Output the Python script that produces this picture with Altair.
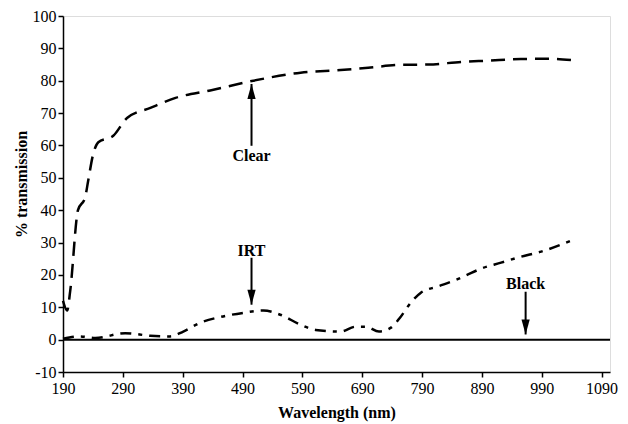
import altair as alt
import pandas as pd

# Clear sample
clear_nm = [190, 197, 202, 215, 227, 232, 240, 249, 274, 297, 336, 378, 436, 508, 587, 654, 700, 754, 800, 855, 900, 955, 1000, 1039]
clear_t = [12, 9, 15, 40, 44, 49, 57, 61, 63, 68.5, 71.6, 74.7, 77, 80, 82.5, 83.3, 84, 84.9, 85, 85.8, 86.2, 86.7, 86.8, 86.4]

# IRT sample
irt_nm = [190, 218, 244, 294, 336, 369, 391, 419, 453, 492, 525, 553, 587, 612, 654, 679, 696, 718, 738, 754, 771, 788, 816, 847, 863, 888, 922, 955, 989, 1039]
irt_t = [0.3, 1, 0.5, 2, 1.2, 1, 2.5, 5.2, 7, 8.3, 9, 7.7, 4.6, 3, 2.5, 4, 4, 2.5, 3.7, 7, 11.4, 14.5, 16.4, 18.5, 19.8, 21.9, 23.8, 25.6, 27.2, 30.6]

# Black sample
black_nm = [190, 1104]
black_t = [0, 0]

x_ticks = [190, 290, 390, 490, 590, 690, 790, 890, 990, 1090]
y_ticks = [-10, 0, 10, 20, 30, 40, 50, 60, 70, 80, 90, 100]

# annotations
ann_label = ["Clear", "IRT", "Black"]
ann_x = [505, 505, 963]
ann_text_y = [56.8, 27.5, 17.3]
ann_tail_y = [59.9, 25.3, 14.8]
ann_tip_y = [79.0, 10.8, 1.6]
ann_dir = ["up", "down", "down"]

FONT = "Liberation Serif"

clear_df = pd.DataFrame({"nm": clear_nm, "t": clear_t})
irt_df = pd.DataFrame({"nm": irt_nm, "t": irt_t})
black_df = pd.DataFrame({"nm": black_nm, "t": black_t})
ann_df = pd.DataFrame({"label": ann_label, "x": ann_x, "ty": ann_text_y,
                       "y1": ann_tail_y, "y2": ann_tip_y, "dir": ann_dir})

xs = alt.Scale(domain=[190, 1104], nice=False, zero=False)
ys = alt.Scale(domain=[-10, 100], nice=False, zero=False)

common = dict(grid=False, labelFont=FONT, labelFontSize=16, labelColor="black",
              titleFont=FONT, titleFontSize=16, titleFontWeight="bold", titleColor="black",
              tickColor="black", domainColor="black", tickSize=5, domainWidth=1.5, tickWidth=1.5,
              labelOverlap=False, labelFlush=False, labelExpr="datum.value + ''", tickCount=30)
xaxis = alt.Axis(values=x_ticks, title="Wavelength (nm)", labelPadding=3, titlePadding=8, **common)
yaxis = alt.Axis(values=y_ticks, title="% transmission", labelPadding=2,
                 titleX=-42, titleY=168, titleAngle=-90, titleAlign="center",
                 titleBaseline="middle", **common)

black = alt.Chart(black_df).mark_line(color="black", strokeWidth=2).encode(
    x=alt.X("nm:Q", scale=xs, axis=xaxis),
    y=alt.Y("t:Q", scale=ys, axis=yaxis),
)
clear = alt.Chart(clear_df).mark_line(color="black", strokeWidth=2.5, strokeDash=[14, 8],
                                      interpolate="monotone").encode(
    x=alt.X("nm:Q", scale=xs), y=alt.Y("t:Q", scale=ys))
irt = alt.Chart(irt_df).mark_line(color="black", strokeWidth=2.5, strokeDash=[11, 7, 4, 7],
                                  interpolate="monotone").encode(
    x=alt.X("nm:Q", scale=xs), y=alt.Y("t:Q", scale=ys))

shafts = alt.Chart(ann_df).mark_rule(color="black", strokeWidth=2).encode(
    x=alt.X("x:Q", scale=xs), y=alt.Y("y1:Q", scale=ys), y2="y2:Q")
heads_up = alt.Chart(ann_df).transform_filter(alt.datum.dir == "up").mark_point(
    shape="M0,0L0.55,2L-0.55,2Z", size=225, filled=True, color="black", opacity=1).encode(
    x=alt.X("x:Q", scale=xs), y=alt.Y("y2:Q", scale=ys))
heads_down = alt.Chart(ann_df).transform_filter(alt.datum.dir == "down").mark_point(
    shape="M0,0L0.55,-2L-0.55,-2Z", size=225, filled=True, color="black", opacity=1).encode(
    x=alt.X("x:Q", scale=xs), y=alt.Y("y2:Q", scale=ys))
texts = alt.Chart(ann_df).mark_text(font=FONT, fontSize=16, fontWeight="bold", color="black",
                                    baseline="middle", align="center").encode(
    x=alt.X("x:Q", scale=xs), y=alt.Y("ty:Q", scale=ys), text="label:N")

chart = alt.layer(black, clear, irt, shafts, heads_up, heads_down, texts).properties(
    width=547, height=356,
    autosize=alt.AutoSizeParams(type="none"),
    padding={"left": 55, "top": 8, "right": 10, "bottom": 50},
).configure_view(stroke="black", strokeWidth=1.5).configure(background="white")

chart.save("out.html", embed_options={"renderer": "svg", "actions": False})
